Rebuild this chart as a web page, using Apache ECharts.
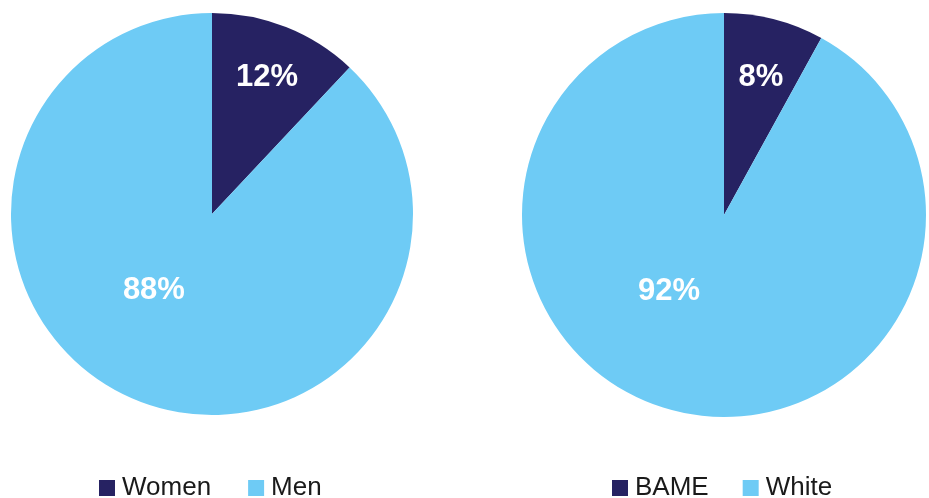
<!DOCTYPE html>
<html>
<head>
<meta charset="utf-8">
<script src="https://cdn.jsdelivr.net/npm/echarts@6/dist/echarts.min.js"></script>
<style>
html,body{margin:0;padding:0;background:#fff;}
#c{width:929px;height:498px;}
</style>
</head>
<body>
<div id="c"></div>
<script>
const genderCategories = ['Women', 'Men'];
const genderValues = [12, 88];
const ethnicityCategories = ['BAME', 'White'];
const ethnicityValues = [8, 92];
const colors = ['#262262', '#6ECBF5'];

const genderLabelShift = [[17, -40], [-20, -20]];
const ethnicityLabelShift = [[11, -37], [-29, -24]];

const chart = echarts.init(document.getElementById('c'));
const FONT = 'Liberation Sans';

function pieSeries(name, cats, vals, center, radius, shift) {
  return {
    type: 'pie',
    name: name,
    center: center,
    radius: radius,
    startAngle: 90,
    clockwise: true,
    silent: true,
    data: cats.map((c, i) => ({name: c, value: vals[i], itemStyle: {color: colors[i]}})),
    label: {
      show: true,
      position: 'inside',
      formatter: '{d}%',
      color: '#fff',
      fontFamily: FONT,
      fontSize: 31,
      fontWeight: 'bold'
    },
    labelLine: {show: false},
    labelLayout: function (p) {
      const s = shift[p.dataIndex];
      return {dx: s[0], dy: s[1]};
    },
    itemStyle: {borderWidth: 0}
  };
}

const legendText = {fontFamily: FONT, fontSize: 26, color: '#1a1a1a', padding: [0, 0, 0, 2]};

chart.setOption({
  animation: false,
  legend: [
    {
      data: genderCategories,
      left: 99, top: 475,
      orient: 'horizontal',
      itemWidth: 16, itemHeight: 16, itemGap: 37,
      icon: 'rect',
      padding: 0,
      textStyle: legendText
    },
    {
      data: ethnicityCategories,
      left: 612, top: 475,
      orient: 'horizontal',
      itemWidth: 16, itemHeight: 16, itemGap: 34,
      icon: 'rect',
      padding: 0,
      textStyle: legendText
    }
  ],
  series: [
    pieSeries('Gender', genderCategories, genderValues, [212, 214], 201, genderLabelShift),
    pieSeries('Ethnicity', ethnicityCategories, ethnicityValues, [724, 215], 202, ethnicityLabelShift)
  ]
});
</script>
</body>
</html>
